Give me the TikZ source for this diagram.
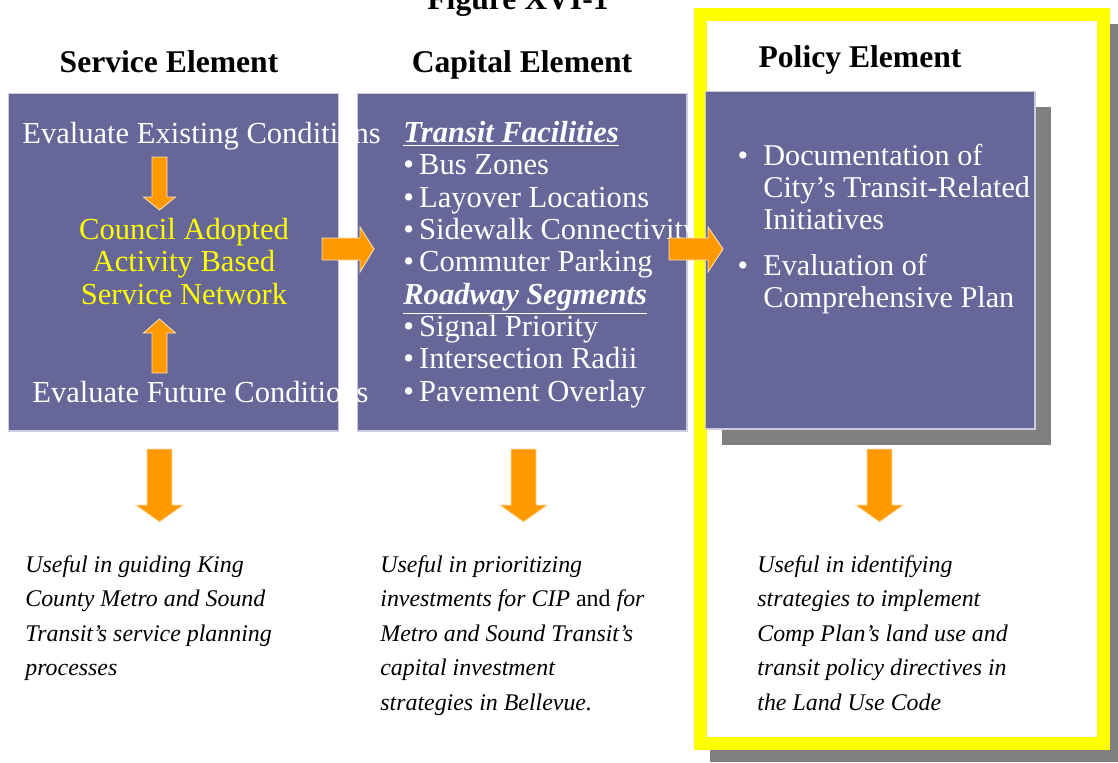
\documentclass[tikz,border=0pt]{standalone}
\usepackage{fontspec}
\setmainfont{Liberation Serif}
\usetikzlibrary{positioning}

\definecolor{boxpurple}{RGB}{102,102,153}
\definecolor{boxedge}{RGB}{204,204,224}
\definecolor{arroworange}{RGB}{255,153,0}
\definecolor{shadowgray}{RGB}{128,128,128}
\definecolor{frameyellow}{RGB}{255,255,0}

\begin{document}
\begin{tikzpicture}[x=0.02cm, y=-0.02cm]
% Estilos
\tikzstyle{elembox} = [rectangle, fill=boxpurple, draw=boxedge, line width=0.6pt, minimum width=6.6cm, minimum height=6.76cm, inner sep=0pt]
\tikzstyle{shadowbox} = [rectangle, fill=shadowgray, minimum width=6.6cm, minimum height=6.76cm, inner sep=0pt]
\tikzstyle{boxtext} = [font=\fontsize{17.4}{18.4}\selectfont, text=white, align=left, inner sep=0pt, anchor=base west]
\tikzstyle{heading} = [font=\fontsize{18}{21}\selectfont\bfseries, inner sep=0pt, anchor=base]
\tikzstyle{usenote} = [font=\fontsize{13.6}{19.6}\selectfont\itshape, align=left, inner sep=0pt, anchor=base west]
\tikzstyle{fatarrow} = [fill=arroworange, draw=white!70!arroworange, line width=0.5pt]

\useasboundingbox (0,0) rectangle (1118,762);

% Titulo
\node[heading] (title) at (518,9) {Figure XVI-1};

% Elementos de servicio y capital
\node[elembox] (service) at (173.5,262) {};
\node[elembox] (capital) at (522,262) {};

\node[boxtext] (existing) at (22,143) {Evaluate Existing Conditions};
\node[boxtext, text=frameyellow, align=center, anchor=base] (network) at (184,304) {
    Council Adopted\\
    Activity Based\\
    Service Network
};
\node[boxtext] (future) at (32,402) {Evaluate Future Conditions};

\node[boxtext] (capitems) at (403,401) {
    \underline{\textbf{\textit{Transit Facilities}}}\\
    •\,Bus Zones\\
    •\,Layover Locations\\
    •\,Sidewalk Connectivity\\
    •\,Commuter Parking\\
    \underline{\textbf{\textit{Roadway Segments}}}\\
    •\,Signal Priority\\
    •\,Intersection Radii\\
    •\,Pavement Overlay
};

% Marco amarillo de politicas
\fill[shadowgray] (710,24) rectangle (1118,762);
\node[rectangle, draw=frameyellow, fill=white, line width=0.26cm, minimum width=8.07cm, minimum height=14.59cm, inner sep=0pt] (frame) at (901.75,378.75) {};

\node[shadowbox] (policyshadow) at (886.5,276) {};
\node[elembox] (policy) at (870,260) {};

\node[boxtext, font=\fontsize{17.2}{18.1}\selectfont, anchor=base] (bulletA) at (743,165) {•};
\node[boxtext, font=\fontsize{17.2}{18.1}\selectfont] (documentation) at (763,229) {
    Documentation of\\
    City’s Transit-Related\\
    Initiatives
};
\node[boxtext, font=\fontsize{17.2}{18.1}\selectfont, anchor=base] (bulletB) at (743,275) {•};
\node[boxtext, font=\fontsize{17.2}{18.1}\selectfont] (evaluation) at (763,307) {
    Evaluation of\\
    Comprehensive Plan
};

% Encabezados
\node[heading] (servicehead) at (169,72) {Service Element};
\node[heading] (capitalhead) at (522,72) {Capital Element};
\node[heading] (policyhead) at (860,67) {Policy Element};

% Flechas
\filldraw[fatarrow] (152,157) -- (167,157) -- (167,197) -- (175.5,197) -- (159.5,210) -- (143.5,197) -- (152,197) -- cycle;
\filldraw[fatarrow] (152,373) -- (167,373) -- (167,333) -- (175.5,333) -- (159.5,319) -- (143.5,333) -- (152,333) -- cycle;
\filldraw[fatarrow] (322,238) -- (360,238) -- (360,227) -- (374,249) -- (360,272) -- (360,260) -- (322,260) -- cycle;
\filldraw[fatarrow] (669,238) -- (708,238) -- (708,227) -- (723,249) -- (708,272) -- (708,260) -- (669,260) -- cycle;
\foreach \c in {159.5,523.5,879.5}
    \filldraw[fatarrow] ({\c-12.5},449) -- ({\c+12.5},449) -- ({\c+12.5},505) -- ({\c+24},505) -- (\c,522) -- ({\c-24},505) -- ({\c-12.5},505) -- cycle;

% Notas de uso
\node[usenote] (servicenote) at (25,675.5) {
    Useful in guiding King\\
    County Metro and Sound\\
    Transit’s service planning\\
    processes
};
\node[usenote] (capitalnote) at (380,710) {
    Useful in prioritizing\\
    investments for CIP \textup{and} for\\
    Metro and Sound Transit’s\\
    capital investment\\
    strategies in Bellevue.
};
\node[usenote] (policynote) at (757,710) {
    Useful in identifying\\
    strategies to implement\\
    Comp Plan’s land use and\\
    transit policy directives in\\
    the Land Use Code
};
\end{tikzpicture}
\end{document}
